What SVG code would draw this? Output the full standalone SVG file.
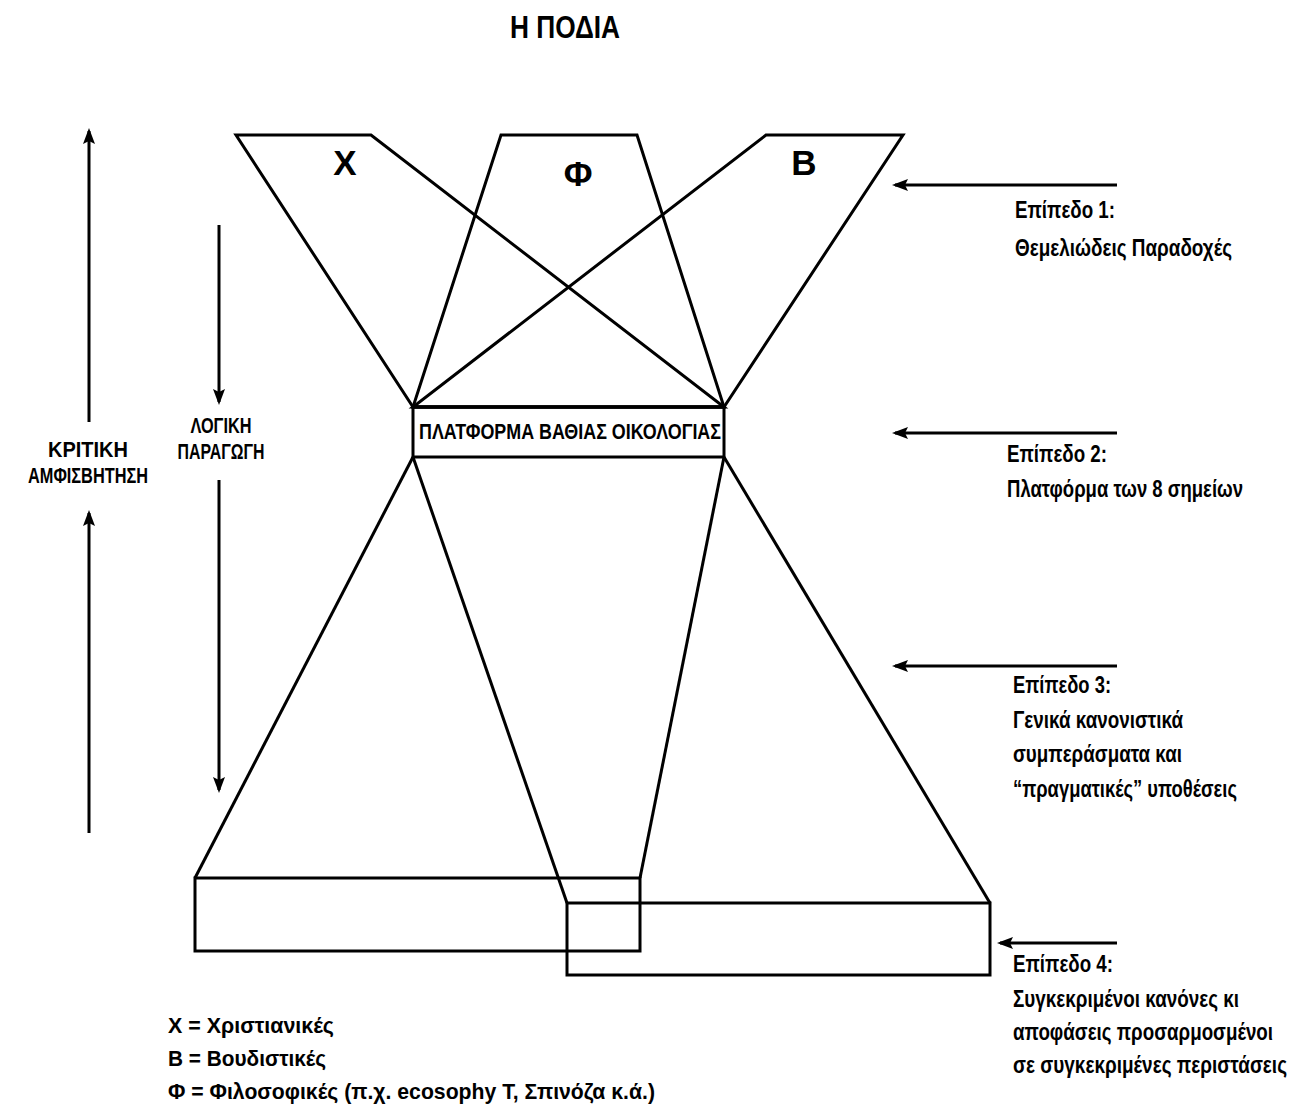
<svg xmlns="http://www.w3.org/2000/svg" width="1302" height="1109" viewBox="0 0 1302 1109">
<style>
.ln{fill:none;stroke:#000;stroke-width:3;stroke-linejoin:miter}
.ar{fill:none;stroke:#000;stroke-width:3;marker-end:url(#ah)}
text{font-family:"Liberation Sans Narrow","Liberation Sans",Arial,sans-serif;font-weight:bold;fill:#000}
.c{text-anchor:middle}
.t{font-size:32px}
.big{font-size:35px}
.pl{font-size:22px}
.lbl{font-size:24px}
.sm{font-size:22px}
.lg{font-size:22px}
</style>
<defs>
<marker id="ah" viewBox="0 0 16 12" markerWidth="16" markerHeight="12" markerUnits="userSpaceOnUse" refX="13" refY="6" orient="auto">
<path d="M0,0 L16,6 L0,12 L3,6 z" fill="#000"/>
</marker>
</defs>
<rect width="1302" height="1109" fill="#fff"/>
<g id="title"><text class="t c" x="565" y="38" textLength="110" lengthAdjust="spacingAndGlyphs">Η ΠΟΔΙΑ</text></g>
<g id="shape-X"><polygon class="ln" points="236,135 371,135 724,407 413,407"/><text class="big c" x="345" y="175">Χ</text></g>
<g id="shape-Phi"><polygon class="ln" points="501,135 637,135 724,407 413,407"/><text class="big c" x="578" y="186">Φ</text></g>
<g id="shape-B"><polygon class="ln" points="766,135 903,135 724,407 413,407"/><text class="big c" x="804" y="175">Β</text></g>
<g id="platform"><rect class="ln" x="413" y="407" width="311" height="50" fill="#fff"/><text class="pl c" x="570" y="439" textLength="302" lengthAdjust="spacingAndGlyphs">ΠΛΑΤΦΟΡΜΑ ΒΑΘΙΑΣ ΟΙΚΟΛΟΓΙΑΣ</text></g>
<g id="funnel-lower"><polyline class="ln" points="413,457 195,878"/><polyline class="ln" points="413,457 567,903"/><polyline class="ln" points="724,457 640,878"/><polyline class="ln" points="724,457 990,903"/></g>
<g id="level4-left"><rect class="ln" x="195" y="878" width="445" height="73"/></g>
<g id="level4-right"><rect class="ln" x="567" y="903" width="423" height="72"/></g>
<g id="connectors">
<line class="ar" x1="89" y1="422" x2="89" y2="131"/>
<line class="ar" x1="89" y1="833" x2="89" y2="513"/>
<line class="ar" x1="219" y1="225" x2="219" y2="402"/>
<line class="ar" x1="219" y1="480" x2="219" y2="790"/>
<line class="ar" x1="1117" y1="185" x2="895" y2="185"/>
<line class="ar" x1="1117" y1="433" x2="895" y2="433"/>
<line class="ar" x1="1117" y1="666" x2="895" y2="666"/>
<line class="ar" x1="1117" y1="943" x2="1000" y2="943"/>
</g>
<g id="label-kritiki"><text class="sm c" x="88" y="457" textLength="80" lengthAdjust="spacingAndGlyphs">ΚΡΙΤΙΚΗ</text><text class="sm c" x="88" y="483" textLength="120" lengthAdjust="spacingAndGlyphs">ΑΜΦΙΣΒΗΤΗΣΗ</text></g>
<g id="label-logiki"><text class="sm c" x="221" y="433" textLength="61" lengthAdjust="spacingAndGlyphs">ΛΟΓΙΚΗ</text><text class="sm c" x="221" y="459" textLength="87" lengthAdjust="spacingAndGlyphs">ΠΑΡΑΓΩΓΗ</text></g>
<g id="level1"><text class="lbl" x="1015" y="218" textLength="100" lengthAdjust="spacingAndGlyphs">Επίπεδο 1:</text><text class="lbl" x="1015" y="256" textLength="217" lengthAdjust="spacingAndGlyphs">Θεμελιώδεις Παραδοχές</text></g>
<g id="level2"><text class="lbl" x="1007" y="462" textLength="100" lengthAdjust="spacingAndGlyphs">Επίπεδο 2:</text><text class="lbl" x="1007" y="497" textLength="236" lengthAdjust="spacingAndGlyphs">Πλατφόρμα των 8 σημείων</text></g>
<g id="level3"><text class="lbl" x="1013" y="693" textLength="98" lengthAdjust="spacingAndGlyphs">Επίπεδο 3:</text><text class="lbl" x="1013" y="728" textLength="170" lengthAdjust="spacingAndGlyphs">Γενικά κανονιστικά</text><text class="lbl" x="1013" y="762" textLength="169" lengthAdjust="spacingAndGlyphs">συμπεράσματα και</text><text class="lbl" x="1013" y="797" textLength="224" lengthAdjust="spacingAndGlyphs">“πραγματικές” υποθέσεις</text></g>
<g id="level4"><text class="lbl" x="1013" y="972" textLength="100" lengthAdjust="spacingAndGlyphs">Επίπεδο 4:</text><text class="lbl" x="1013" y="1007" textLength="226" lengthAdjust="spacingAndGlyphs">Συγκεκριμένοι κανόνες κι</text><text class="lbl" x="1013" y="1040" textLength="260" lengthAdjust="spacingAndGlyphs">αποφάσεις προσαρμοσμένοι</text><text class="lbl" x="1013" y="1073" textLength="274" lengthAdjust="spacingAndGlyphs">σε συγκεκριμένες περιστάσεις</text></g>
<g id="legend"><text class="lg" x="168" y="1033" textLength="166" lengthAdjust="spacingAndGlyphs">Χ = Χριστιανικές</text><text class="lg" x="168" y="1066" textLength="158" lengthAdjust="spacingAndGlyphs">Β = Βουδιστικές</text><text class="lg" x="168" y="1099" textLength="487" lengthAdjust="spacingAndGlyphs">Φ = Φιλοσοφικές (π.χ. ecosophy T, Σπινόζα κ.ά.)</text></g>
</svg>
